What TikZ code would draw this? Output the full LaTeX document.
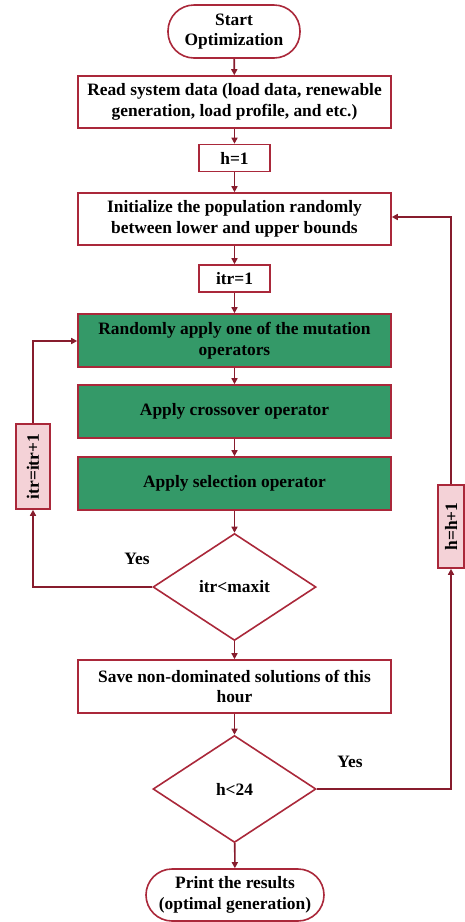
\documentclass[tikz,border=0pt]{standalone}
\usepackage{fontspec}
\setmainfont{Liberation Serif}
\usetikzlibrary{shapes.geometric,arrows.meta}
\definecolor{boxred}{RGB}{170,40,58}
\definecolor{linered}{RGB}{135,28,45}
\definecolor{opgreen}{RGB}{52,153,104}
\definecolor{sidepink}{RGB}{244,210,215}
\tikzset{
  txt/.style={font=\fontsize{17.4}{20.5}\selectfont\bfseries, align=center, inner sep=0pt},
  box/.style={txt, draw=boxred, line width=1.6pt, rectangle, fill=white},
  opbox/.style={box, fill=opgreen},
  sidebox/.style={box, fill=sidepink},
  term/.style={box, rounded corners=26pt},
  decide/.style={txt, draw=boxred, line width=1.6pt, diamond, fill=white, minimum width=163pt, minimum height=107pt},
  flow/.style={draw=linered, line width=1.6pt, -{Triangle[length=6pt,width=6pt]}},
  plain/.style={draw=linered, line width=1.6pt}
}
\begin{document}
\begin{tikzpicture}[x=1pt,y=-1pt]
\useasboundingbox (0,0) rectangle (464,922);
\node[term, minimum width=132pt, minimum height=53pt] (start) at (234,31.5) {Start\\Optimization};
\node[box, minimum width=313pt, minimum height=52pt] (read) at (234.5,102) {Read system data (load data, renewable\\generation, load profile, and etc.)};
\node[box, minimum width=71pt, minimum height=27pt] (h1) at (234.5,158) {h=1};
\node[box, minimum width=313pt, minimum height=52pt] (init) at (234.5,219) {Initialize the population randomly\\between lower and upper bounds};
\node[box, minimum width=71pt, minimum height=27pt] (itr1) at (234.5,278.5) {itr=1};
\node[opbox, minimum width=313pt, minimum height=53pt] (mut) at (234.5,340.5) {Randomly apply one of the mutation\\operators};
\node[opbox, minimum width=313pt, minimum height=53pt] (cross) at (234.5,411.5) {Apply crossover operator};
\node[opbox, minimum width=313pt, minimum height=53pt] (sel) at (234.5,483.5) {Apply selection operator};
\node[decide] (d1) at (234.5,587) {itr<maxit};
\node[sidebox, minimum width=34pt, minimum height=85pt] (itrbox) at (33,466.5) {};
\node[txt, rotate=90] (itrlbl) at (itrbox.center) {itr=itr+1};
\node[box, minimum width=313pt, minimum height=53pt] (save) at (234.5,686.5) {Save non-dominated solutions of this\\hour};
\node[decide] (d2) at (234.5,789) {h<24};
\node[sidebox, minimum width=26pt, minimum height=83pt] (hbox) at (451,526.5) {};
\node[txt, rotate=90] (hlbl) at (hbox.center) {h=h+1};
\node[term, minimum width=178pt, minimum height=52pt] (print) at (235,895) {Print the results\\(optimal generation)};
\node[txt] (yes1) at (137,559) {Yes};
\node[txt] (yes2) at (350,762) {Yes};
\coordinate (lt) at (33,341);
\coordinate (lb) at (33,587);
\coordinate (rb) at (451,789);
\coordinate (rt) at (451,217);
\draw[flow] (start) -- (read);
\draw[flow] (read) -- (h1);
\draw[flow] (h1) -- (init);
\draw[flow] (init) -- (itr1);
\draw[flow] (itr1) -- (mut);
\draw[flow] (mut) -- (cross);
\draw[flow] (cross) -- (sel);
\draw[flow] (sel) -- (d1);
\draw[flow] (d1) -- (save);
\draw[flow] (save) -- (d2);
\draw[flow] (d2) -- (print);
\draw[flow] (d1.west) -- (lb) -- (itrbox.south);
\draw[flow] (itrbox.north) -- (lt) -- (mut.west |- lt);
\draw[flow] (d2.east) -- (rb) -- (hbox.south);
\draw[flow] (hbox.north) -- (rt) -- (init.east |- rt);
\end{tikzpicture}
\end{document}
